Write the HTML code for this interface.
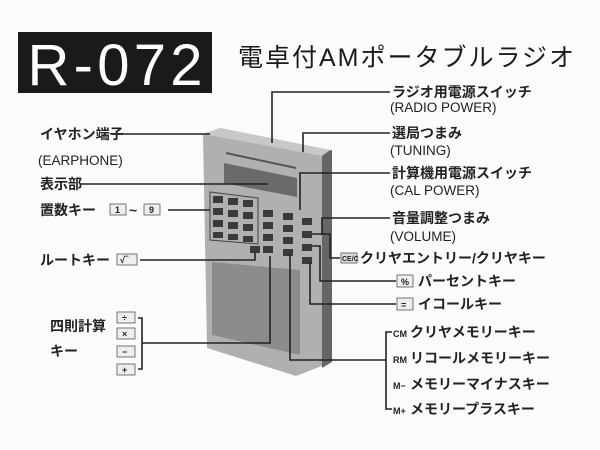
<!DOCTYPE html>
<html><head><meta charset="utf-8"><style>
html,body{margin:0;padding:0;background:#fff;}
svg{display:block}
text{font-family:"Liberation Sans","Noto Sans CJK JP",sans-serif;fill:#222;}
.j{font-size:14px;font-weight:bold;}
.e{font-size:13.5px;}
.k{font-size:9px;font-weight:bold;}
</style></head><body>
<svg width="600" height="450" viewBox="0 0 600 450">
<rect width="600" height="450" fill="#fbfbfb"/>
<rect x="18" y="32" width="194" height="61" fill="#1a1a1a"/>
<text x="115" y="85" text-anchor="middle" style="font-size:58px;fill:#fff;" textLength="175">R-072</text>
<text x="238" y="66" style="font-size:25px;fill:#1a1a1a" textLength="336">電卓付AMポータブルラジオ</text>

<!-- device -->
<polygon points="203,134 220,128 330,150 332,362 296,376 207,348" fill="#b0b0b0"/>
<polygon points="322,152 332,150 332,362 322,368" fill="#666"/>
<polygon points="203,134 220,128 330,150 322,156" fill="#c8c8c8"/>
<polygon points="224,163 297,178 297,197 224,183" fill="#6a6a6a"/>
<line x1="226" y1="153" x2="296" y2="168" stroke="#555" stroke-width="2"/>
<polygon points="212,262 300,270 300,355 212,335" fill="#8c8c8c"/>
<polygon points="210,192 258,198 258,244 210,240" fill="none" stroke="#444" stroke-width="1"/>
<g fill="#3a3a3a">
<rect x="213" y="196" width="10" height="7"/><rect x="228" y="198" width="10" height="7"/><rect x="243" y="200" width="10" height="7"/>
<rect x="213" y="208" width="10" height="7"/><rect x="228" y="210" width="10" height="7"/><rect x="243" y="212" width="10" height="7"/>
<rect x="213" y="220" width="10" height="7"/><rect x="228" y="222" width="10" height="7"/><rect x="243" y="224" width="10" height="7"/>
<rect x="213" y="232" width="10" height="6"/><rect x="228" y="234" width="10" height="6"/><rect x="243" y="236" width="10" height="6"/>
<rect x="250" y="246" width="10" height="7"/>
<rect x="263" y="210" width="10" height="7"/><rect x="263" y="222" width="10" height="7"/><rect x="263" y="234" width="10" height="7"/><rect x="263" y="246" width="10" height="7"/>
<rect x="283" y="213" width="10" height="7"/><rect x="283" y="225" width="10" height="7"/><rect x="283" y="237" width="10" height="7"/><rect x="283" y="249" width="10" height="7"/>
<rect x="302" y="218" width="10" height="7"/><rect x="302" y="231" width="10" height="7"/><rect x="302" y="244" width="10" height="7"/><rect x="302" y="257" width="10" height="7"/>
</g>

<g stroke="#222" stroke-width="1.6" fill="none">
<polyline points="272,143 272,92 390,92"/>
<polyline points="303,152 303,133 390,133"/>
<polyline points="300,210 300,173 390,173"/>
<polyline points="322,235 322,218 390,218"/>
<polyline points="312,234 330,234 330,258 340,258"/>
<polyline points="312,246 320,246 320,281 396,281"/>
<polyline points="310,262 310,304 396,304"/>
<polyline points="392,332 386,332 386,409 392,409"/>
<polyline points="386,360 290,360 290,255"/>
<polyline points="112,134 210,134"/>
<polyline points="80,184 268,184"/>
<polyline points="168,210 210,210"/>
<polyline points="140,260 255,260 255,252"/>
<polyline points="138,318 142,318 142,369 138,369"/>
<polyline points="142,343 270,343 270,256"/>
</g>

<text class="j" x="392" y="97">ラジオ用電源スイッチ</text>
<text class="e" x="390" y="112">(RADIO POWER)</text>
<text class="j" x="392" y="138">選局つまみ</text>
<text class="e" x="390" y="155">(TUNING)</text>
<text class="j" x="392" y="178">計算機用電源スイッチ</text>
<text class="e" x="390" y="195">(CAL POWER)</text>
<text class="j" x="392" y="223">音量調整つまみ</text>
<text class="e" x="390" y="241">(VOLUME)</text>
<rect x="341" y="253" width="16" height="10" fill="#ddd" stroke="#555" stroke-width="0.8"/><text class="k" x="342" y="261" style="font-size:7px">CE/C</text>
<text class="j" x="360" y="263">クリヤエントリー/クリヤキー</text>
<rect x="397" y="275" width="16" height="12" fill="#eee" stroke="#555" stroke-width="0.8"/><text class="k" x="401" y="285">%</text>
<text class="j" x="418" y="286">パーセントキー</text>
<rect x="397" y="298" width="16" height="12" fill="#eee" stroke="#555" stroke-width="0.8"/><text class="k" x="401" y="308">=</text>
<text class="j" x="418" y="309">イコールキー</text>
<text class="k" x="393" y="337">CM</text><text class="j" x="410" y="337">クリヤメモリーキー</text>
<text class="k" x="393" y="363">RM</text><text class="j" x="410" y="363">リコールメモリーキー</text>
<text class="k" x="393" y="389">M−</text><text class="j" x="410" y="389">メモリーマイナスキー</text>
<text class="k" x="393" y="414">M+</text><text class="j" x="410" y="414">メモリープラスキー</text>

<text class="j" x="40" y="139">イヤホン端子</text>
<text class="e" x="38" y="165">(EARPHONE)</text>
<text class="j" x="40" y="189">表示部</text>
<text class="j" x="40" y="215">置数キー</text>
<rect x="110" y="204" width="16" height="11" fill="#eee" stroke="#555" stroke-width="0.8"/><text class="k" x="115" y="213">1</text>
<text class="j" x="129" y="215">~</text>
<rect x="144" y="204" width="16" height="11" fill="#eee" stroke="#555" stroke-width="0.8"/><text class="k" x="149" y="213">9</text>
<text class="j" x="40" y="265">ルートキー</text>
<rect x="117" y="254" width="20" height="11" fill="#eee" stroke="#555" stroke-width="0.8"/><text class="k" x="120" y="263">√‾</text>
<text class="j" x="50" y="331">四則計算</text>
<text class="j" x="50" y="356">キー</text>
<g fill="#eee" stroke="#555" stroke-width="0.8">
<rect x="117" y="312" width="18" height="11"/><rect x="117" y="328" width="18" height="11"/><rect x="117" y="346" width="18" height="11"/><rect x="117" y="364" width="18" height="11"/>
</g>
<text class="k" x="122" y="321">÷</text><text class="k" x="122" y="337">×</text><text class="k" x="122" y="355">−</text><text class="k" x="122" y="373">+</text>
</svg>
</body></html>
